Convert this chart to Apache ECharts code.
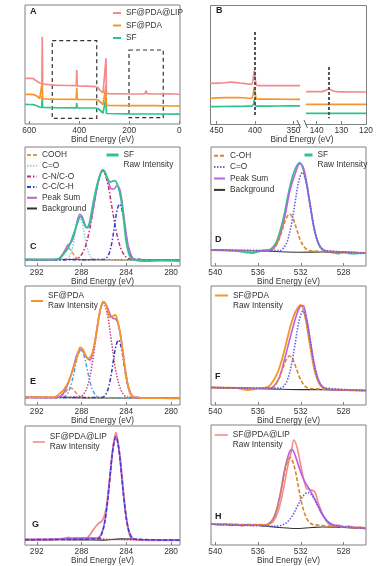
<!DOCTYPE html>
<html><head><meta charset="utf-8">
<script src="https://cdn.jsdelivr.net/npm/echarts@6/dist/echarts.min.js"></script>
<style>html,body{margin:0;padding:0;background:#fff}#c{width:390px;height:566px}</style>
</head><body><div id="c"></div>
<script>
// ---------------- tick labels ----------------
const surveyTicks = [0, 200, 400, 600];
const bLeftTicks = [350, 400, 450];
const bRightTicks = [120, 130, 140];
const c1sTicks = [280, 284, 288, 292];
const o1sTicks = [528, 532, 536, 540];

// ---------------- Panel A (survey) ----------------
const aLip = [[617,45.7],[600,45.7],[585,45.5],[577,44.5],[568,42.5],[558,41],[552,40],[549.5,40.5],[548,87.3],[546.5,40],[540,39.3],[500,38.8],[450,38.5],[412,38.3],[410,54],[408,38.2],[370,37.8],[335,37.3],[325,36.5],[318,34],[305,31],[297,30.5],[294.5,30.5],[293,65.7],[291.5,30.5],[280,30.3],[200,30],[150,30],[137,30.3],[133,33.5],[129,30.3],[100,30],[30,30.2],[22,31],[16,30],[-3,29.5]];
const aPda = [[617,29.7],[600,29.7],[580,29.3],[570,28],[558,25.5],[550,25],[548,42],[546.5,25],[500,24.8],[412,24.7],[410,36],[408,24.7],[340,24.5],[325,24],[318,22],[305,19.5],[297,19],[294.5,19],[293,38],[291.5,18.5],[200,18.3],[100,18.3],[20,18],[-3,17.8]];
const aSf = [[617,19.7],[600,19.5],[585,19.3],[572,18.5],[560,17],[550,16.7],[548,28],[546.5,16.5],[500,16.3],[412,16.2],[410,21],[408,16],[340,16],[325,15.5],[318,13.5],[305,11],[297,10.7],[294.5,10.7],[293,26],[291.5,10.5],[200,10.2],[100,10],[-3,9.8]];
const aBoxes = [[508,83.3,330,5.7],[201,74,64,6.3]];

// ---------------- Panel B (N1s / P2p zoom) ----------------
const bLipLeft = [[458.4,40.7],[445,40.8],[432,41.8],[420,41],[410,40],[404,39.8],[402,47],[400.8,54],[399.5,44],[398,39],[395,38.3],[370,38.5],[341.6,38.3]];
const bPdaLeft = [[458.4,25.7],[440,26.3],[420,26.5],[405,25.5],[402.5,29],[401,36.7],[399.5,30],[398,25],[380,24.8],[341.6,24.7]];
const bSfLeft = [[458.4,17.3],[440,17.5],[420,17.7],[405,17.8],[402,19.5],[401,24],[399.8,19],[398,17.8],[370,18],[341.6,18.2]];
const bLipRight = [[144.3,32.3],[138,32.3],[136.5,33.5],[135,35],[133.5,33.3],[132,32.3],[120,32]];
const bPdaRight = [[144.3,19.7],[120,19.7]];
const bSfRight = [[144.3,10.7],[120,10.7]];
const bGuideLeft = [[400,92],[400,7]];
const bGuideRight = [[135,57],[135,5.7]];

// ---------------- Panel C (SF, C1s) ----------------
const cRaw = [[293.05,6.5],[291,6.3],[290.3,6.6],[290,7.5],[289.76,9.7],[289.5,13.5],[289.17,18.5],[288.9,26],[288.57,36.3],[288.3,45],[288.12,49.7],[287.9,46.5],[287.7,40.5],[287.52,38.5],[287.35,41],[287.23,46.3],[286.93,64.7],[286.7,77],[286.48,86.5],[286.25,94],[286.09,96.3],[285.9,94],[285.7,88],[285.44,84],[285.2,85],[285.05,85.3],[284.85,83],[284.6,74],[284.4,62],[284.24,48],[284.09,31],[283.9,18],[283.7,10],[283.5,7],[283,5.5],[282,5],[281,5.3],[279.2,5]];
const cSum = [[293.05,6],[290.5,6.1],[290,7.6],[289.6,13.4],[289.2,21.2],[288.9,23.8],[288.6,34.3],[288.35,46.5],[288.15,51.8],[287.95,49.7],[287.75,43.3],[287.55,38.3],[287.35,39.2],[287.1,48.6],[286.85,63.6],[286.6,79.2],[286.35,90.7],[286.1,95.2],[285.85,91.9],[285.6,84],[285.35,77.3],[285.1,77],[284.85,80.3],[284.6,77.3],[284.4,66],[284.2,49],[284,31.8],[283.8,18.9],[283.5,9.2],[283.2,6.4],[282.5,6],[279.2,6]];
const cBackground = [[293.05,6.8],[289,6.5],[286,6.2],[283,6],[279.2,5.8]];
const cCooh = [[293.05,6],[290.4,6.1],[290.2,6.5],[290,7.6],[289.8,9.9],[289.6,13.3],[289.4,16.6],[289.2,18],[289,16.6],[288.8,13.3],[288.6,9.9],[288.4,7.6],[288.2,6.5],[288,6.1],[279.2,6]];
const cCo = [[293.05,6],[289.41,6.5],[289.2,7.8],[288.99,11.7],[288.78,19.6],[288.57,31.5],[288.36,43],[288.15,48],[287.94,43],[287.73,31.5],[287.52,19.6],[287.31,11.7],[287.1,7.8],[286.89,6.5],[279.2,6]];
const cCn = [[293.05,6],[288.5,7],[288.1,9.9],[287.7,18],[287.3,34.9],[286.9,60],[286.5,84.5],[286.1,95],[285.7,84.5],[285.3,60],[284.9,34.9],[284.5,18],[284.1,9.9],[283.7,7],[279.2,6]];
const cCc = [[293.05,6],[285.95,6.6],[285.725,8.5],[285.5,13.6],[285.275,24.2],[285.05,40],[284.825,55.4],[284.6,62],[284.375,55.4],[284.15,40],[283.925,24.2],[283.7,13.6],[283.475,8.5],[283.25,6.6],[279.2,6]];

// ---------------- Panel D (SF, O1s) ----------------
const dRaw = [[540.4,16],[539,15.5],[538,15],[537,13.5],[536.5,13],[536,14.5],[535.5,15.5],[535,16],[534.6,19],[534.2,26],[533.6,49],[533.3,65],[533,80],[532.6,95],[532.1,103.3],[531.6,89],[531.1,59],[530.65,33],[530.2,19.3],[529.7,15],[529,13.5],[528.5,12.5],[528,13.5],[527.5,12.7],[527,12.5],[525.9,12.8]];
const dSum = [[540.4,16],[536,15.3],[535,15.6],[534.5,18.1],[534,28.4],[533.5,49],[533,76],[532.5,93],[532.1,102],[531.85,100.5],[531.6,92],[531.2,66.4],[530.8,40.2],[530.4,23.7],[530,16.8],[529.5,14.6],[528,14],[525.9,13]];
const dBackground = [[540.4,16],[536,15.3],[534,14.3],[532,13.8],[530,14],[528,13.6],[525.9,13.2]];
const dCoh = [[540.4,16],[535,15.2],[534.675,16.4],[534.35,19.8],[534.025,26.8],[533.7,37.3],[533.375,47.4],[533.05,52],[532.725,47.4],[532.4,37.3],[532.075,26.8],[531.75,19.8],[531.425,16.4],[531.1,15.2],[525.9,13]];
const dCo = [[540.4,16],[533.95,15.5],[533.6,18.1],[533.25,25.3],[532.9,40.3],[532.55,62.5],[532.2,84.3],[531.85,93.6],[531.5,84.3],[531.15,62.5],[530.8,40.3],[530.45,25.3],[530.1,18.1],[529.75,15.5],[525.9,13]];

// ---------------- Panel E (SF@PDA, C1s) ----------------
const eRaw = [[293.05,7.7],[291,7.8],[290.5,7.7],[290.2,9],[289.91,11.7],[289.6,15],[289.31,20],[289,28],[288.57,41.7],[288.3,52],[288.12,57.7],[287.9,56],[287.6,49],[287.38,46.7],[287.1,50],[286.9,58],[286.63,75],[286.33,95],[286.04,103.3],[285.8,100],[285.6,91],[285.45,87.7],[285.2,89],[284.99,90],[284.8,85],[284.54,71.7],[284.25,48.3],[283.94,25],[283.65,11.7],[283.3,8],[282.5,7],[281,6.8],[279.2,6.5]];
const eSum = [[293.05,7.7],[290.5,7.4],[290,8],[289.6,12],[289.3,18.6],[289,27.8],[288.7,39],[288.4,50.6],[288.1,55.5],[287.8,53],[287.5,46.9],[287.25,45],[287,51.9],[286.7,70.3],[286.4,90.7],[286.04,103.2],[285.7,98.1],[285.45,90.7],[285.2,86.9],[285,86.1],[284.8,83.5],[284.6,75.1],[284.4,60.9],[284.2,43.7],[284,28.3],[283.8,17.5],[283.5,9.5],[283.2,7.4],[282,7],[279.2,6.7]];
const eBackground = [[293.05,7.7],[289,7.3],[286,7],[283,6.8],[279.2,6.5]];
const eCooh = [[293.05,7.5],[290.35,7.1],[290.125,7.4],[289.9,8.4],[289.675,10.3],[289.45,13.1],[289.225,15.8],[289,17],[288.775,15.8],[288.55,13.1],[288.325,10.3],[288.1,8.4],[287.875,7.4],[287.65,7.1],[279.2,6.7]];
const eCo = [[293.05,7.5],[289.7,7.5],[289.425,9.1],[289.15,13.5],[288.875,22.6],[288.6,36.1],[288.325,49.4],[288.05,55],[287.775,49.4],[287.5,36.1],[287.225,22.6],[286.95,13.5],[286.675,9.1],[286.4,7.5],[279.2,6.7]];
const eCn = [[293.05,7.5],[288.14,8.1],[287.79,11.2],[287.44,19.9],[287.09,37.9],[286.74,64.7],[286.39,90.8],[286.04,102],[285.69,90.8],[285.34,64.7],[284.99,37.9],[284.64,19.9],[284.29,11.2],[283.94,8.1],[279.2,6.7]];
const eCc = [[293.05,7.5],[286.14,7.6],[285.9,9.5],[285.66,14.8],[285.42,25.8],[285.18,42.2],[284.94,58.2],[284.7,65],[284.46,58.2],[284.22,42.2],[283.98,25.8],[283.74,14.8],[283.5,9.5],[283.26,7.6],[279.2,6.7]];

// ---------------- Panel F (SF@PDA, O1s) ----------------
const fRaw = [[540.4,17.5],[539,17.3],[538,17],[537.5,16],[537,15],[536.5,15.5],[536,16.5],[535.3,17.3],[534.85,20],[534.2,31.7],[533.6,51.7],[532.98,78.3],[532.5,93],[532,100],[531.6,88.3],[531.1,57],[530.65,31.7],[530.2,20],[529.7,16],[529,15.5],[528,15],[527,14.6],[525.9,14.5]];
const fSum = [[540.4,17.5],[537,16.8],[535.5,16.5],[535,16.6],[534.5,19],[534,28],[533.5,46.5],[533,67],[532.5,86.5],[532.1,98],[531.8,99.5],[531.5,89],[531.1,63.5],[530.7,38.5],[530.3,23.5],[529.9,17.6],[529.4,15.8],[528,15],[525.9,14.5]];
const fBackground = [[540.4,17.5],[536,16.5],[534,15.8],[532,15.4],[530,15.4],[528,15],[525.9,14.5]];
const fCoh = [[540.4,17.5],[535,16.4],[534.675,17.4],[534.35,20.5],[534.025,26.7],[533.7,36],[533.375,45.1],[533.05,49],[532.725,45.1],[532.4,36],[532.075,26.7],[531.75,20.5],[531.425,17.4],[531.1,16.4],[525.9,14.5]];
const fCo = [[540.4,17.5],[533.9,16.9],[533.55,19.4],[533.2,26.5],[532.85,41.4],[532.5,63.3],[532.15,84.8],[531.8,94],[531.45,84.8],[531.1,63.3],[530.75,41.4],[530.4,26.5],[530.05,19.4],[529.7,16.9],[525.9,14.5]];

// ---------------- Panel G (SF@PDA@LIP, C1s) ----------------
const gRaw = [[293.05,5.5],[291,5.3],[290,6],[289.5,7],[289.17,7.8],[288.8,6.5],[288.3,6.3],[287.8,6.2],[287.52,7],[287.3,9.5],[287.08,13.3],[286.85,17],[286.63,20],[286.4,22.5],[286.2,24],[286.04,27],[285.9,32],[285.73,42],[285.6,55],[285.44,72],[285.23,94],[285.05,108],[284.93,113.3],[284.8,108],[284.65,97],[284.54,87],[284.4,72],[284.25,53.3],[283.94,23.3],[283.65,8.3],[283.3,5.5],[282.5,5],[281,4.8],[279.2,4.8]];
const gSum = [[293.05,5.8],[290,6],[289.2,6.8],[288.5,7],[287.5,7],[286.8,7],[286.52,7.5],[286.255,10.5],[285.99,20],[285.725,39.5],[285.46,68.5],[285.195,97],[284.93,109.5],[284.665,97],[284.4,68.1],[284.135,38.8],[283.87,19.1],[283.605,9.6],[283.34,6.2],[282.5,5.2],[279.2,5]];
const gBackground = [[293.05,5.5],[288,5.2],[286,5],[284.5,6.3],[283,5.8],[281,5],[279.2,4.8]];
const gCc = [[293.05,5.5],[286.52,6.2],[286.255,9.6],[285.99,19.1],[285.725,38.8],[285.46,68.1],[285.195,96.8],[284.93,109],[284.665,96.8],[284.4,68.1],[284.135,38.8],[283.87,19.1],[283.605,9.6],[283.34,6.2],[279.2,5]];
const gCn = [[293.05,5.5],[289.5,6],[288.5,6.8],[287.5,7],[286.8,6.8],[286,6],[284.5,5.5],[279.2,5]];

// ---------------- Panel H (SF@PDA@LIP, O1s) ----------------
const hRaw = [[540.4,21],[539.5,20],[539,21],[538.5,19.5],[538,20.5],[537.5,19],[537,20.5],[536.5,19.5],[536,20],[535.5,19],[535.07,20.7],[534.6,23.3],[534.13,33.3],[533.67,53.3],[533.26,76.7],[532.89,93.3],[532.64,105],[532.33,96.7],[531.95,76.7],[531.49,56.7],[531.2,55.5],[531.02,55],[530.7,53.3],[530.4,43.3],[529.93,30],[529.46,21.7],[529,19],[528.5,20],[528,18],[527.5,19],[527,17.5],[526.5,18],[525.9,16.7]];
const hSum = [[540.4,21],[537,20],[535.5,19.8],[535,21],[534.5,27.8],[534,46.7],[533.5,75.6],[533,94.5],[532.8,95.1],[532.6,91.8],[532.2,79.1],[531.8,67],[531.4,59.2],[531,52.2],[530.5,41.6],[530,31],[529.5,23.7],[529,20.1],[528.5,18.9],[528,18.3],[527,17.3],[525.9,16.5]];
const hBackground = [[540.4,20.5],[536,19.5],[534,17.5],[532.5,16.5],[531,17.5],[530,18],[528,17.5],[525.9,16.5]];
const hCoh = [[540.4,21],[535.19,20.3],[534.825,22.5],[534.46,28.7],[534.095,41.6],[533.73,60.8],[533.365,79.5],[533,87.5],[532.635,79.5],[532.27,60.8],[531.905,41.6],[531.54,28.7],[531.175,22.5],[530.81,20.3],[525.9,16.5]];
const hCo = [[540.4,21],[534.2,18.9],[533.725,20],[533.25,23.1],[532.775,29.5],[532.3,39.1],[531.825,48.5],[531.35,52.5],[530.875,48.5],[530.4,39.1],[529.925,29.5],[529.45,23.1],[528.975,20],[528.5,18.9],[525.9,16.5]];

// ---------------- styling ----------------
const COL = {
  pink:'#f28c8c', orange:'#f5962a', green:'#2ec48c', violet:'#c060e0', bg:'#333333',
  tan:'#d2a050', lblue:'#96caf0', crimson:'#c2306b', navy:'#3a3ccc',
  coh:'#d9852a', coD:'#6a60e0', eBlue:'#4fa3e3', eCrimson:'#c8447e', eNavy:'#2e35b8'
};
const DASH = [4,2], DOT = [1.5,1.5], DASHDOT = [4,2,1.5,2];
const FONT = 8.3, TXT = '#333';
const FRAME = '#808080';

function ln(name, data, axis, color, width, dash, smooth) {
  return {
    type:'line', name, data, xAxisIndex:axis, yAxisIndex:axis,
    symbol:'none', showSymbol:false, smooth: smooth === undefined ? 0.35 : smooth,
    silent:true,
    lineStyle:{color, width, type: dash || 'solid'}, itemStyle:{color}
  };
}

function xAx(grid, min, max, ticks, nameGap, name, namePad) {
  return {
    type:'value', gridIndex:grid, min, max, inverse:true,
    axisLine:{show:false}, splitLine:{show:false},
    axisTick:{show:true, inside:true, length:3, lineStyle:{color:FRAME}, customValues:ticks},
    axisLabel:{customValues:ticks, color:TXT, fontSize:FONT, margin:3},
    name: name === undefined ? 'Bind Energy (eV)' : name,
    nameLocation:'middle', nameGap,
    nameTextStyle:{color:TXT, fontSize:FONT, padding: namePad || 0}
  };
}
function yAx(grid, max) {
  return {type:'value', gridIndex:grid, min:0, max, show:false};
}

const grids = [
  {left:25, top:5, width:155, height:119, show:true, borderColor:FRAME},      // A
  {left:210, top:5, width:90, height:119, show:false},                        // B left
  {left:306, top:5, width:60, height:119, show:false},                        // B right
  {left:25, top:147, width:155, height:119, show:true, borderColor:FRAME},    // C
  {left:211, top:147, width:155, height:119, show:true, borderColor:FRAME},   // D
  {left:25, top:286, width:155, height:119, show:true, borderColor:FRAME},    // E
  {left:211, top:286, width:155, height:119, show:true, borderColor:FRAME},   // F
  {left:25, top:426, width:155, height:120, show:true, borderColor:FRAME},    // G
  {left:211, top:425, width:155, height:120, show:true, borderColor:FRAME}    // H
];

const xAxes = [
  xAx(0, -3, 617, surveyTicks, 12),
  xAx(1, 341.6, 458.4, bLeftTicks, 12, 'Bind Energy (eV)', [0,0,0,94]),
  xAx(2, 120, 144.3, bRightTicks, 12, ''),
  xAx(3, 279.2, 293.05, c1sTicks, 9),
  xAx(4, 525.9, 540.4, o1sTicks, 9),
  xAx(5, 279.2, 293.05, c1sTicks, 9),
  xAx(6, 525.9, 540.4, o1sTicks, 9),
  xAx(7, 279.2, 293.05, c1sTicks, 8),
  xAx(8, 525.9, 540.4, o1sTicks, 8)
];
const yAxes = [119,119,119,119,119,119,119,120,120].map((m,i)=>yAx(i,m));

const boxStyle = {color:'rgba(0,0,0,0)', borderColor:'#333', borderWidth:1.2, borderType:[4,3]};
const aLipSeries = ln('SF@PDA@LIP', aLip, 0, COL.pink, 1.7, null, false);
aLipSeries.markArea = {
  silent:true, itemStyle:boxStyle, label:{show:false},
  data: aBoxes.map(b => [{coord:[b[0], b[1]]}, {coord:[b[2], b[3]]}])
};

const series = [
  // A
  ln('SF', aSf, 0, COL.green, 1.7, null, false),
  ln('SF@PDA', aPda, 0, COL.orange, 1.7, null, false),
  aLipSeries,
  // B
  ln('bSfL', bSfLeft, 1, COL.green, 1.7, null, 0.2),
  ln('bPdaL', bPdaLeft, 1, COL.orange, 1.7, null, 0.2),
  ln('bLipL', bLipLeft, 1, COL.pink, 1.7, null, 0.2),
  ln('bGuideL', bGuideLeft, 1, '#555', 2, [3,2], false),
  ln('bSfR', bSfRight, 2, COL.green, 1.7, null, false),
  ln('bPdaR', bPdaRight, 2, COL.orange, 1.7, null, false),
  ln('bLipR', bLipRight, 2, COL.pink, 1.7, null, 0.3),
  ln('bGuideR', bGuideRight, 2, '#555', 2, [3,2], false),
  // C
  ln('Background', cBackground, 3, COL.bg, 1.1),
  ln('COOH', cCooh, 3, COL.tan, 1.5, DASH),
  ln('C=O', cCo, 3, COL.lblue, 1.6, DOT),
  ln('C-N/C-O', cCn, 3, COL.crimson, 1.5, DASHDOT),
  ln('C-C/C-H', cCc, 3, COL.navy, 1.5, DASHDOT),
  ln('Peak Sum', cSum, 3, COL.violet, 1.6),
  ln('SF#C', cRaw, 3, COL.green, 1.8),
  // D
  ln('SF#D', dRaw, 4, COL.green, 1.8),
  ln('Background', dBackground, 4, COL.bg, 1.1),
  ln('Peak Sum', dSum, 4, COL.violet, 1.6),
  ln('C-OH', dCoh, 4, COL.coh, 1.6, DASH),
  ln('C=O#D', dCo, 4, COL.coD, 1.6, DOT),
  // E
  ln('eBg', eBackground, 5, COL.bg, 1.1),
  ln('eCooh', eCooh, 5, COL.tan, 1.5, DASH),
  ln('eCo', eCo, 5, COL.eBlue, 1.5, DASHDOT),
  ln('eCn', eCn, 5, COL.eCrimson, 1.5, DOT),
  ln('eCc', eCc, 5, COL.eNavy, 1.5, DASHDOT),
  ln('eSum', eSum, 5, COL.violet, 1.6),
  ln('SF@PDA#E', eRaw, 5, COL.orange, 1.8),
  // F
  ln('SF@PDA#F', fRaw, 6, COL.orange, 1.8),
  ln('fBg', fBackground, 6, COL.bg, 1.1),
  ln('fSum', fSum, 6, COL.violet, 1.6),
  ln('fCoh', fCoh, 6, COL.coh, 1.6, DASH),
  ln('fCo', fCo, 6, COL.coD, 1.6, DOT),
  // G
  ln('SF@PDA@LIP#G', gRaw, 7, COL.pink, 1.8),
  ln('gBg', gBackground, 7, COL.bg, 1.1),
  ln('gCn', gCn, 7, COL.crimson, 1.5, DOT),
  ln('gSum', gSum, 7, COL.violet, 1.6),
  ln('gCc', gCc, 7, COL.navy, 1.5, DASH),
  // H
  ln('SF@PDA@LIP#H', hRaw, 8, COL.pink, 1.6),
  ln('hBg', hBackground, 8, COL.bg, 1.1),
  ln('hSum', hSum, 8, COL.violet, 1.7),
  ln('hCoh', hCoh, 8, COL.coh, 1.6, DASH),
  ln('hCo', hCo, 8, COL.coD, 1.6, DOT)
];

const legBase = {orient:'vertical', padding:0, selectedMode:false, itemHeight:6,
  itemStyle:{opacity:0},
  textStyle:{fontSize:FONT, color:TXT, lineHeight:10}};
// "centred": swatch between the two lines; "firstLine": swatch level with the first line
const centred = (first) => () => first + '\nRaw Intensity';
const firstLine = (first) => () => '\n' + first + '\nRaw Intensity';
const legends = [
  Object.assign({}, legBase, {left:112, top:8, itemWidth:8, itemGap:2.5, data:['SF@PDA@LIP','SF@PDA','SF']}),
  Object.assign({}, legBase, {left:26, top:150, itemWidth:10, itemGap:0.7,
    data:['COOH','C=O','C-N/C-O','C-C/C-H','Peak Sum','Background']}),
  Object.assign({}, legBase, {left:105, top:140, itemWidth:12, data:[{name:'SF#C', lineStyle:{width:3}}],
    formatter: firstLine('SF')}),
  Object.assign({}, legBase, {left:213, top:150.7, itemWidth:11, itemGap:1.4,
    data:['C-OH','C=O#D','Peak Sum','Background'], formatter: n => n.split('#')[0]}),
  Object.assign({}, legBase, {left:303, top:140, itemWidth:8, data:[{name:'SF#D', lineStyle:{width:3}}],
    formatter: firstLine('SF')}),
  Object.assign({}, legBase, {left:30, top:291, itemWidth:12, data:[{name:'SF@PDA#E', lineStyle:{width:2}}],
    formatter: centred('SF@PDA')}),
  Object.assign({}, legBase, {left:214, top:280.5, itemWidth:13, data:[{name:'SF@PDA#F', lineStyle:{width:2}}],
    formatter: firstLine('SF@PDA')}),
  Object.assign({}, legBase, {left:32, top:432, itemWidth:12, data:[{name:'SF@PDA@LIP#G', lineStyle:{width:1.6}}],
    formatter: centred('SF@PDA@LIP')}),
  Object.assign({}, legBase, {left:214, top:420, itemWidth:13, data:[{name:'SF@PDA@LIP#H', lineStyle:{width:1.6}}],
    formatter: firstLine('SF@PDA@LIP')})
];

const letter = (t, l, tp) => ({text:t, left:l, top:tp, padding:0,
  textStyle:{fontSize:9, fontWeight:'bold', color:'#222', lineHeight:10}});
const titles = [
  letter('A', 30, 7), letter('B', 216, 6), letter('C', 30, 242), letter('D', 215, 235),
  letter('E', 30, 377), letter('F', 215, 372), letter('G', 32, 520), letter('H', 215, 512)
];

const chart = echarts.init(document.getElementById('c'), null, {renderer:'canvas'});
chart.setOption({
  backgroundColor:'#ffffff',
  animation:false,
  textStyle:{fontFamily:'"Liberation Sans", Arial, sans-serif'},
  title: titles,
  legend: legends,
  grid: grids,
  xAxis: xAxes,
  yAxis: yAxes,
  series,
  graphic: [
    {type:'rect', silent:true, shape:{x:210.5, y:5.5, width:156, height:119}, style:{fill:'none', stroke:FRAME, lineWidth:1}},
    {type:'rect', silent:true, shape:{x:300.5, y:122, width:5, height:5}, style:{fill:'#ffffff'}},
    {type:'line', silent:true, shape:{x1:297, y1:120, x2:300.5, y2:128}, style:{stroke:'#666', lineWidth:1}},
    {type:'line', silent:true, shape:{x1:304, y1:120, x2:307.5, y2:128}, style:{stroke:'#666', lineWidth:1}}
  ]
});
</script>
</body></html>
